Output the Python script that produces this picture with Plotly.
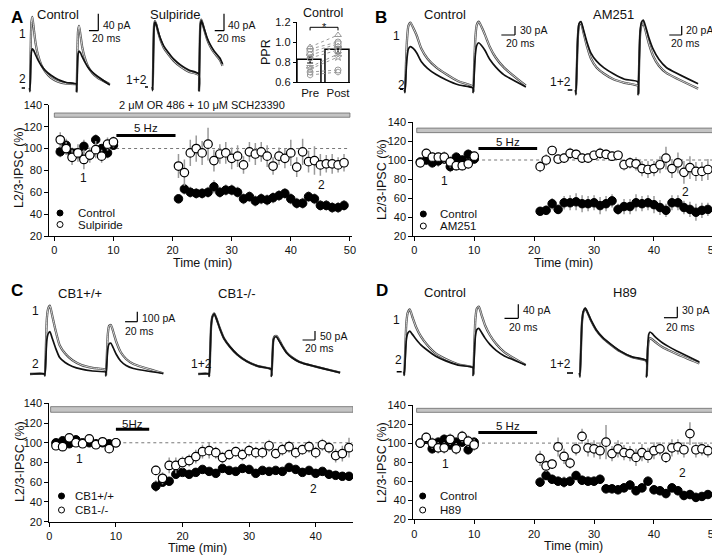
import plotly.graph_objects as go

# reference canvas is 720 x 556; the page adds an 8 px body margin, so the figure is drawn 8 px smaller
REF_W, REF_H = 720, 556
OX, OY = 8, 8
W, H = REF_W - OX, REF_H - OY
FONT = "Arial"

# ---------------- time courses ----------------
TIME_AB = list(range(1, 11)) + list(range(21, 50))
TIME_C = list(range(1, 11)) + list(range(16, 46))
TIME_D = list(range(1, 11)) + list(range(21, 50))

A_CONTROL = [97, 103, 96, 95, 102, 94, 108, 100, 96, 103,
             54, 63, 60, 59, 59, 60, 65, 60, 62, 62, 60, 54, 56, 52, 54, 53, 55, 57, 59, 54,
             50, 50, 56, 54, 48, 48, 46, 46, 48]
A_CONTROL_SEM = [5, 6, 5, 5, 6, 5, 5, 4, 5, 4,
                 4, 5, 5, 5, 5, 5, 6, 5, 5, 5, 5, 5, 5, 5, 5, 5, 5, 5, 5, 5,
                 5, 5, 5, 5, 5, 5, 5, 5, 5]
A_SULPIRIDE = [108, 100, 92, 96, 90, 94, 99, 93, 104, 106,
               84, 78, 96, 100, 96, 104, 89, 95, 96, 91, 93, 85, 97, 95, 97, 93, 84, 93, 91, 96,
               83, 97, 88, 89, 85, 86, 86, 85, 87]
A_SULPIRIDE_SEM = [7, 6, 7, 8, 9, 7, 8, 6, 6, 5,
                   11, 12, 12, 12, 11, 15, 10, 9, 10, 10, 10, 8, 9, 10, 9, 10, 8, 8, 9, 12,
                   9, 12, 10, 13, 10, 8, 9, 7, 8]

B_CONTROL = [98, 100, 97, 99, 101, 93, 103, 100, 106, 101,
             46, 47, 54, 48, 55, 55, 56, 54, 54, 55, 52, 54, 57, 48, 51, 51, 55, 54, 55, 53,
             50, 47, 55, 55, 50, 48, 45, 47, 48]
B_CONTROL_SEM = [4, 5, 5, 6, 5, 6, 5, 5, 5, 5,
                 4, 5, 6, 5, 7, 8, 9, 9, 8, 8, 9, 8, 7, 6, 8, 8, 9, 8, 8, 9,
                 8, 7, 8, 8, 7, 8, 9, 8, 7]
B_AM251 = [97, 107, 103, 103, 103, 98, 94, 94, 96, 104,
           93, 100, 110, 101, 102, 107, 106, 102, 102, 105, 107, 106, 104, 105, 95, 97, 96, 91, 90, 91,
           95, 102, 91, 97, 87, 92, 88, 88, 90]
B_AM251_SEM = [4, 5, 5, 5, 6, 6, 5, 5, 5, 5,
               6, 6, 5, 5, 5, 6, 5, 5, 5, 5, 6, 5, 5, 5, 6, 6, 7, 8, 9, 8,
               9, 12, 10, 11, 12, 12, 10, 10, 11]

C_WT = [100, 102, 99, 103, 100, 100, 99, 100, 99, 100,
        56, 60, 61, 68, 70, 68, 70, 73, 71, 69, 74, 72, 71, 74, 73, 69, 72, 71, 72, 71,
        75, 73, 70, 72, 69, 71, 68, 67, 66, 66]
C_WT_SEM = [3, 3, 3, 3, 3, 3, 3, 3, 3, 3,
            6, 4, 4, 4, 3, 3, 3, 3, 3, 3, 3, 3, 3, 3, 3, 3, 3, 3, 3, 3,
            3, 3, 3, 3, 3, 3, 3, 3, 3, 3]
C_KO = [97, 96, 105, 100, 99, 104, 98, 101, 94, 100,
        72, 64, 77, 77, 80, 82, 86, 91, 92, 90, 85, 88, 91, 88, 92, 90, 90, 97, 89, 93,
        96, 90, 93, 96, 90, 98, 95, 87, 89, 95]
C_KO_SEM = [4, 4, 4, 4, 4, 4, 4, 4, 4, 4,
            5, 6, 8, 8, 6, 6, 7, 7, 8, 6, 6, 5, 5, 6, 6, 6, 6, 6, 5, 6,
            6, 6, 5, 6, 6, 6, 6, 7, 8, 10]

D_CONTROL = [100, 104, 94, 101, 104, 98, 101, 101, 93, 101,
             59, 66, 62, 60, 59, 60, 66, 61, 60, 60, 62, 52, 52, 51, 53, 56, 50, 53, 60, 51,
             50, 47, 53, 50, 45, 46, 43, 44, 46]
D_CONTROL_SEM = [5, 5, 5, 5, 5, 5, 5, 5, 5, 5,
                 5, 5, 5, 5, 6, 5, 5, 5, 5, 5, 5, 5, 5, 5, 5, 5, 5, 5, 5, 5,
                 5, 5, 5, 5, 5, 5, 5, 4, 4]
D_H89 = [100, 106, 100, 95, 95, 104, 94, 107, 102, 98,
         84, 76, 78, 96, 86, 79, 94, 107, 95, 94, 92, 101, 89, 94, 90, 89, 85, 90, 87, 92,
         94, 85, 95, 96, 93, 110, 93, 94, 92]
D_H89_SEM = [5, 5, 6, 6, 6, 6, 6, 6, 6, 6,
             8, 6, 5, 10, 8, 6, 7, 8, 9, 9, 9, 18, 8, 9, 8, 8, 9, 9, 8, 9,
             7, 6, 9, 8, 8, 12, 8, 7, 7]

# ---------------- paired-pulse ratio (panel A inset) ----------------
PPR_GROUPS = ["Pre", "Post"]
PPR_MEAN = [0.82, 0.92]
PPR_SEM = [0.03, 0.03]
PPR_PRE = [0.95, 0.93, 0.90, 0.87, 0.84, 0.75, 0.73, 0.70, 0.67]
PPR_POST = [1.07, 1.00, 0.98, 0.95, 0.92, 0.88, 0.85, 0.72, 0.70]

# ---------------- example sweeps (pA vs ms) ----------------
SWEEP_T = [-0.5, 0, 1.5, 3, 5, 8, 12, 17, 24, 33, 45, 60, 78, 99.5,
           100, 101.5, 103, 105, 108, 112, 117, 124, 133, 145]
SWEEP_END = {"A_ctl": 171, "A_sul": 151, "B_ctl": 177, "B_am": 196,
             "C_wt": 194, "C_ko": 210, "D_ctl": 176, "D_h89": 179}
A_CTL_1 = [0, -8, 92, 154, 167, 140, 105, 78, 55, 38, 24, 15, 10, 8, -8, 85, 135, 146, 125, 95, 72, 51, 36, 24, 9]
A_CTL_2 = [0, -8, 50, 85, 92, 88, 78, 66, 53, 41, 30, 20, 13, 9, -8, 48, 80, 87, 83, 73, 62, 49, 38, 27, 7]
A_SUL_1 = [0, -8, 85, 145, 155, 146, 128, 110, 92, 78, 62, 48, 36, 28, -8, 90, 148, 158, 148, 132, 114, 96, 80, 64, 50]
A_SUL_2 = [0, -8, 82, 142, 153, 146, 130, 113, 96, 82, 66, 52, 40, 31, -8, 88, 145, 156, 148, 134, 117, 100, 84, 68, 54]
B_CTL_1 = [0, -10, 89, 167, 211, 222, 205, 180, 135, 102, 75, 51, 27, 9, -10, 90, 170, 214, 225, 208, 182, 142, 105, 72, 12]
B_CTL_2 = [0, -10, 55, 105, 135, 142, 136, 122, 92, 70, 50, 32, 15, 4, -10, 60, 115, 146, 155, 146, 130, 100, 74, 48, 8]
B_AM_1 = [0, -10, 58, 118, 145, 148, 128, 100, 70, 50, 36, 24, 16, 9, -10, 65, 125, 143, 148, 130, 103, 75, 54, 38, 3]
B_AM_2 = [0, -10, 60, 120, 148, 152, 134, 109, 82, 64, 49, 36, 24, 18, -10, 70, 130, 150, 155, 140, 116, 90, 68, 50, 14]
C_WT_1 = [0, -15, 270, 550, 650, 683, 580, 444, 287, 205, 137, 89, 61, 41, -15, 200, 400, 480, 490, 420, 320, 220, 150, 100, 7]
C_WT_2 = [0, -15, 170, 340, 400, 423, 355, 265, 165, 115, 75, 48, 30, 18, -15, 130, 250, 300, 307, 260, 195, 130, 85, 55, 5]
C_KO_1 = [0, -12, 130, 270, 320, 337, 303, 253, 195, 152, 108, 71, 44, 27, -12, 110, 195, 210, 211, 190, 158, 120, 92, 67, 8]
C_KO_2 = [0, -12, 128, 268, 318, 335, 302, 252, 195, 152, 108, 71, 44, 27, -12, 108, 190, 205, 206, 185, 155, 118, 90, 66, 8]
D_CTL_1 = [0, -10, 70, 140, 169, 178, 155, 128, 101, 77, 53, 36, 21, 12, -10, 75, 150, 180, 186, 162, 133, 105, 80, 56, 19]
D_CTL_2 = [0, -10, 45, 92, 110, 116, 106, 93, 77, 62, 45, 31, 19, 12, -10, 50, 100, 120, 124, 112, 96, 78, 61, 45, 19]
D_H89_1 = [0, -10, 68, 138, 166, 176, 162, 141, 118, 98, 79, 59, 43, 33, -10, 60, 88, 95, 92, 86, 79, 70, 62, 52, 26]
D_H89_2 = [0, -10, 70, 140, 168, 177, 163, 142, 119, 99, 80, 60, 44, 34, -10, 70, 105, 112, 108, 100, 92, 82, 72, 60, 30]
# pre-stimulus baseline segment (ms); a segment ending at 0 is drawn joined to the sweep
SWEEP_PRE = {"A_ctl": (-17.8, -10.7), "A_sul": (-16.6, -10.2), "B_ctl": (-7.3, -2.9),
             "B_am": (-13.3, -5.9), "C_wt": (-24.6, 0), "C_ko": (-17.7, 0),
             "D_ctl": (-11.0, -3.8), "D_h89": (-19.5, -10.5)}
SCALE_PA = {"A_ctl": 40, "A_sul": 40, "B_ctl": 30, "B_am": 20,
            "C_wt": 100, "C_ko": 50, "D_ctl": 40, "D_h89": 30}
SCALE_MS = 20

# ---------------- styling / geometry ----------------
fig = go.Figure()
annotations = []
shapes = []


def px(x):
    return (x - OX) / W


def py(y):
    return 1 - (y - OY) / H


def ann(text, x, y, size=12, xanchor="center", yanchor="middle", bold=False, angle=0, color="#111"):
    annotations.append(dict(
        text=f"<b>{text}</b>" if bold else text, x=px(x), y=py(y), xref="paper", yref="paper",
        xanchor=xanchor, yanchor=yanchor, showarrow=False, textangle=angle,
        font=dict(family=FONT, size=size, color=color)))


def legend_mark(cx, cy, filled, r=3.0):
    shapes.append(dict(type="circle", xref="paper", yref="paper", x0=px(cx - r), x1=px(cx + r),
                       y0=py(cy + r), y1=py(cy - r), fillcolor="black" if filled else "white",
                       line=dict(color="black", width=1)))


axis_common = dict(showline=True, linecolor="black", linewidth=1, ticks="outside", ticklen=4,
                   tickwidth=1, tickcolor="black", showgrid=False, zeroline=False,
                   ticklabeloverflow="allow", tickfont=dict(family=FONT, size=11, color="#111"))

PANELS = [
    dict(i=1, t=TIME_AB, a=A_CONTROL, ae=A_CONTROL_SEM, b=A_SULPIRIDE, be=A_SULPIRIDE_SEM,
         names=("Control", "Sulpiride"), xpx=(49.3, 352.0), ypx=(236.0, 104.8), xr=(-0.85, 50.35),
         xt=[0, 10, 20, 30, 40, 50], drug=(0, 50, 128.6, 132.5, 139.5), hz=(10.5, 20.5, 112, 118.5, "5 Hz"),
         lab1=(5.0, 73), lab2=(45.2, 67), leg=((60, 213), (60, 224.5), 76),
         ytitle=(19, 168), xtitle=(203, 262.5), dot=50),
    dict(i=2, t=TIME_AB, a=B_CONTROL, ae=B_CONTROL_SEM, b=B_AM251, be=B_AM251_SEM,
         names=("Control", "AM251"), xpx=(413.3, 716.0), ypx=(236.0, 122.0), xr=(-0.17, 50.35),
         xt=[0, 10, 20, 30, 40, 50], drug=(0.4, 50, 128.8, 133.6, 143.0), hz=(10.7, 20.5, 112, 118.5, "5 Hz"),
         lab1=(5.1, 78), lab2=(45.2, 66.5), leg=((423.3, 214), (423.3, 226), 438),
         ytitle=(382, 180), xtitle=(563, 262.5), dot=50),
    dict(i=3, t=TIME_C, a=C_WT, ae=C_WT_SEM, b=C_KO, be=C_KO_SEM,
         names=("CB1+/+", "CB1-/-"), xpx=(49.3, 353.0), ypx=(521.7, 403.3), xr=(0, 45.6),
         xt=[0, 10, 20, 30, 40], drug=(0.2, 45.6, 130.9, 136.6, 144.5), hz=(10.0, 15.0, 113.6, 119.5, "5Hz"),
         lab1=(4.6, 84), lab2=(39.7, 53), leg=((61.5, 496), (61.5, 510), 72.5),
         ytitle=(20, 462), xtitle=(197, 548), dot=45.5),
    dict(i=4, t=TIME_D, a=D_CONTROL, ae=D_CONTROL_SEM, b=D_H89, be=D_H89_SEM,
         names=("Control", "H89"), xpx=(413.0, 716.0), ypx=(519.3, 405.0), xr=(-0.2, 50.35),
         xt=[0, 10, 20, 30, 40, 50], drug=(0.4, 50, 132.3, 136.5, 145.5), hz=(10.7, 20.5, 111, 118, "5 Hz"),
         lab1=(5.3, 78), lab2=(44.8, 69), leg=((422.7, 496), (422.7, 510), 438),
         ytitle=(382, 463), xtitle=(573, 546), dot=50),
]

for p in PANELS:
    i = p["i"]
    sx = "" if i == 1 else str(i)
    xa, ya = "x" + sx, "y" + sx
    fig.layout["xaxis" + sx] = dict(axis_common, domain=[px(p["xpx"][0]), px(p["xpx"][1])],
                                    range=list(p["xr"]), tickvals=p["xt"], anchor=ya)
    fig.layout["yaxis" + sx] = dict(axis_common, domain=[py(p["ypx"][0]), py(p["ypx"][1])],
                                    range=[20, 140], tickvals=[20, 40, 60, 80, 100, 120, 140], anchor=xa)
    # drug application bar
    d0, d1, y0, y1, ty = p["drug"]
    shapes.append(dict(type="rect", xref=xa, yref=ya, x0=d0, x1=d1, y0=y0, y1=y1,
                       fillcolor="#c4c4c4", line=dict(color="#6a6a6a", width=0.8), layer="below"))
    annotations.append(dict(text="2 μM OR 486 + 10 μM SCH23390", x=(d0 + d1) / 2, y=ty, xref=xa, yref=ya,
                            showarrow=False, font=dict(family=FONT, size=11, color="#111")))
    # stimulation bar
    h0, h1, hy, hty, htxt = p["hz"]
    shapes.append(dict(type="line", xref=xa, yref=ya, x0=h0, x1=h1, y0=hy, y1=hy,
                       line=dict(color="black", width=3)))
    annotations.append(dict(text=htxt, x=(h0 + h1) / 2, y=hty, xref=xa, yref=ya, showarrow=False,
                            font=dict(family=FONT, size=11.5, color="#111")))
    # 100 % reference
    shapes.append(dict(type="line", xref=xa, yref=ya, x0=0.3, x1=p["dot"], y0=100, y1=100,
                       line=dict(color="#777", width=1, dash="dot"), layer="below"))
    for txt, (lx, ly) in (("1", p["lab1"]), ("2", p["lab2"])):
        annotations.append(dict(text=txt, x=lx, y=ly, xref=xa, yref=ya, showarrow=False,
                                font=dict(family=FONT, size=12, color="#111")))
    ann("L2/3-IPSC (%)", p["ytitle"][0], p["ytitle"][1], size=12.5, angle=-90)
    ann("Time (min)", p["xtitle"][0], p["xtitle"][1], size=12.5)
    err = dict(type="data", color="#9a9a9a", thickness=1.5, width=0)
    fig.add_trace(go.Scatter(x=p["t"], y=p["a"], mode="markers", name=p["names"][0], xaxis=xa, yaxis=ya,
                             showlegend=False, error_y=dict(err, array=p["ae"]),
                             marker=dict(size=8.5, color="black", line=dict(color="black", width=1))))
    fig.add_trace(go.Scatter(x=p["t"], y=p["b"], mode="markers", name=p["names"][1], xaxis=xa, yaxis=ya,
                             showlegend=False, error_y=dict(err, array=p["be"]),
                             marker=dict(size=8.5, color="white", line=dict(color="black", width=1.2))))
    # key
    (m1x, m1y), (m2x, m2y), tx = p["leg"]
    legend_mark(m1x, m1y, True)
    legend_mark(m2x, m2y, False)
    ann(p["names"][0], tx, m1y, size=11.5, xanchor="left")
    ann(p["names"][1], tx, m2y, size=11.5, xanchor="left")

# ---------------- PPR inset ----------------
fig.layout["xaxis5"] = dict(axis_common, domain=[px(296.7), px(350)], range=[-0.48, 1.43],
                            tickvals=[0, 1], ticktext=PPR_GROUPS, ticks="", anchor="y5",
                            tickfont=dict(family=FONT, size=11.5, color="#111"))
fig.layout["yaxis5"] = dict(axis_common, domain=[py(82), py(22)], range=[0.6, 1.2],
                            tickvals=[0.6, 0.8, 1.0, 1.2], ticktext=["0.6", "0.8", "1.0", "1.2"], anchor="x5",
                            ticklen=3, tickfont=dict(family=FONT, size=11, color="#111"))
fig.add_trace(go.Bar(x=[0, 1], y=PPR_MEAN, width=0.86, xaxis="x5", yaxis="y5", showlegend=False,
                     marker=dict(color="white", line=dict(color="black", width=1.5)),
                     error_y=dict(type="data", array=PPR_SEM, color="black", thickness=1.2, width=3)))
SYMS = ["triangle-up-open", "circle-open", "square-open", "diamond-open", "circle-open",
        "triangle-down-open", "star-open", "circle-open", "hexagon-open"]
for k, (a, b) in enumerate(zip(PPR_PRE, PPR_POST)):
    fig.add_trace(go.Scatter(x=[0, 1], y=[a, b], mode="lines+markers", xaxis="x5", yaxis="y5",
                             showlegend=False, line=dict(color="#9a9a9a", width=1, dash="dot"),
                             marker=dict(symbol=SYMS[k % len(SYMS)], size=6, color="#9a9a9a",
                                         line=dict(width=1))))
shapes.append(dict(type="path", xref="x5", yref="y5", path="M 0,1.116 L 0,1.147 L 1,1.147 L 1,1.116",
                   line=dict(color="black", width=1)))
annotations.append(dict(text="*", x=0.5, y=1.152, xref="x5", yref="y5", showarrow=False,
                        font=dict(family=FONT, size=11, color="#111")))
ann("PPR", 266, 52, size=12.5, angle=-90)
ann("Control", 323, 13, size=12.5)

# ---------------- example sweeps ----------------
SWEEP_GEOM = {  # x of 1st stimulus, px between stimuli, baseline px, pA per px, scale-bar corner px
    "A_ctl": (30.0, 46.7, 88.0, 2.35, (98.3, 30.7)),
    "A_sul": (152.7, 46.3, 87.0, 2.35, (224.0, 30.7)),
    "B_ctl": (405.0, 68.3, 89.3, 3.33, (515.0, 35.0)),
    "B_am": (576.0, 62.3, 90.0, 2.22, (681.7, 35.0)),
    "C_wt": (45.0, 61.0, 374.0, 10.0, (137.3, 321.7)),
    "C_ko": (209.3, 62.3, 374.0, 5.56, (315.0, 340.0)),
    "D_ctl": (404.3, 69.0, 371.7, 2.86, (518.3, 318.3)),
    "D_h89": (580.0, 66.7, 373.0, 2.73, (677.3, 317.7)),
}
SWEEPS = {"A_ctl": (A_CTL_1, A_CTL_2), "A_sul": (A_SUL_1, A_SUL_2), "B_ctl": (B_CTL_1, B_CTL_2),
          "B_am": (B_AM_1, B_AM_2), "C_wt": (C_WT_1, C_WT_2), "C_ko": (C_KO_1, C_KO_2),
          "D_ctl": (D_CTL_1, D_CTL_2), "D_h89": (D_H89_1, D_H89_2)}

ax_i = 6
for key, (s1, s2) in SWEEPS.items():
    xr0, ivl, base, pa_px, corner = SWEEP_GEOM[key]
    ppm = ivl / 100.0
    left, right = max(xr0 - 28, OX + 0.5), min(xr0 + 150, REF_W - 1)
    top, bottom = max(base - 92, OY + 0.5), base + 10
    sx = str(ax_i)
    fig.layout["xaxis" + sx] = dict(domain=[px(left), px(right)], range=[(left - xr0) / ppm, (right - xr0) / ppm],
                                    visible=False, anchor="y" + sx)
    fig.layout["yaxis" + sx] = dict(domain=[py(bottom), py(top)],
                                    range=[(base - bottom) * pa_px, (base - top) * pa_px],
                                    visible=False, anchor="x" + sx)
    t = SWEEP_T + [SWEEP_END[key]]
    p0, p1 = SWEEP_PRE[key]
    if p1 == 0:
        tt = [p0] + t
        v1, v2 = [0] + s1, [0] + s2
    else:
        tt, v1, v2 = t, s1, s2
        fig.add_trace(go.Scatter(x=[p0, p1], y=[0, 0], mode="lines", xaxis="x" + sx, yaxis="y" + sx,
                                 showlegend=False, line=dict(color="black", width=1.6)))
    fig.add_trace(go.Scatter(x=tt, y=v1, mode="lines", xaxis="x" + sx, yaxis="y" + sx, showlegend=False,
                             line=dict(color="#4a4a4a", width=2.3, shape="spline", smoothing=0.6)))
    fig.add_trace(go.Scatter(x=tt, y=v1, mode="lines", xaxis="x" + sx, yaxis="y" + sx, showlegend=False,
                             line=dict(color="#e2e2e2", width=0.9, shape="spline", smoothing=0.6)))
    fig.add_trace(go.Scatter(x=tt, y=v2, mode="lines", xaxis="x" + sx, yaxis="y" + sx, showlegend=False,
                             line=dict(color="#111", width=1.7, shape="spline", smoothing=0.6)))
    # scale bars
    cx = (corner[0] - xr0) / ppm
    cy = (base - corner[1]) * pa_px
    shapes.append(dict(type="line", xref="x" + sx, yref="y" + sx, x0=cx, x1=cx, y0=cy, y1=cy + SCALE_PA[key],
                       line=dict(color="black", width=1.2)))
    shapes.append(dict(type="line", xref="x" + sx, yref="y" + sx, x0=cx - SCALE_MS, x1=cx, y0=cy, y1=cy,
                       line=dict(color="black", width=1.2)))
    ax_i += 1

# sweep labels, titles and scale-bar text
SWEEP_TEXT = [
    ("Control", 58, 14.5, 13, "center"), ("Sulpiride", 175, 14.5, 13, "center"),
    ("Control", 445, 14.5, 13, "center"), ("AM251", 613, 14.5, 13, "center"),
    ("CB1+/+", 80, 293, 13, "center"), ("CB1-/-", 237, 293, 13, "center"),
    ("Control", 445, 292, 13, "center"), ("H89", 625, 292, 13, "center"),
    ("1", 22, 34, 12, "center"), ("2", 22, 79, 12, "center"), ("1+2", 136, 80, 12, "center"),
    ("1", 396, 36, 12, "center"), ("2", 401.7, 85, 12, "center"), ("1+2", 560, 82, 12, "center"),
    ("1", 35, 311, 12, "center"), ("2", 35, 364, 12, "center"), ("1+2", 201, 364, 12, "center"),
    ("1", 396, 320, 12, "center"), ("2", 398.3, 360, 12, "center"), ("1+2", 560, 364, 12, "center"),
    ("40 pA", 101, 25, 10.5, "left"), ("20 ms", 90, 38, 10.5, "left"),
    ("40 pA", 226, 25, 10.5, "left"), ("20 ms", 215, 38, 10.5, "left"),
    ("30 pA", 517.7, 30, 10.5, "left"), ("20 ms", 504.3, 43.5, 10.5, "left"),
    ("20 pA", 684, 30, 10.5, "left"), ("20 ms", 669.3, 43.5, 10.5, "left"),
    ("100 pA", 140, 317.5, 10.5, "left"), ("20 ms", 122.7, 330.5, 10.5, "left"),
    ("50 pA", 318.3, 335.5, 10.5, "left"), ("20 ms", 303.3, 348, 10.5, "left"),
    ("40 pA", 521, 310, 10.5, "left"), ("20 ms", 506.7, 327, 10.5, "left"),
    ("30 pA", 680, 310, 10.5, "left"), ("20 ms", 664, 327, 10.5, "left"),
]
for txt, x, y, s, anc in SWEEP_TEXT:
    ann(txt, x, y, size=s, xanchor=anc)

for letter, x, y in (("A", 8.5, 17.5), ("B", 373, 17.5), ("C", 8.5, 290), ("D", 374, 290)):
    ann(letter, x, y, size=17, xanchor="left", bold=True, color="black")

fig.update_layout(width=W, height=H, margin=dict(l=0, r=0, t=0, b=0, autoexpand=False), paper_bgcolor="white",
                  plot_bgcolor="rgba(0,0,0,0)", annotations=annotations, shapes=shapes,
                  font=dict(family=FONT, color="#111"), bargap=0, showlegend=False)
fig.write_html("out.html")
